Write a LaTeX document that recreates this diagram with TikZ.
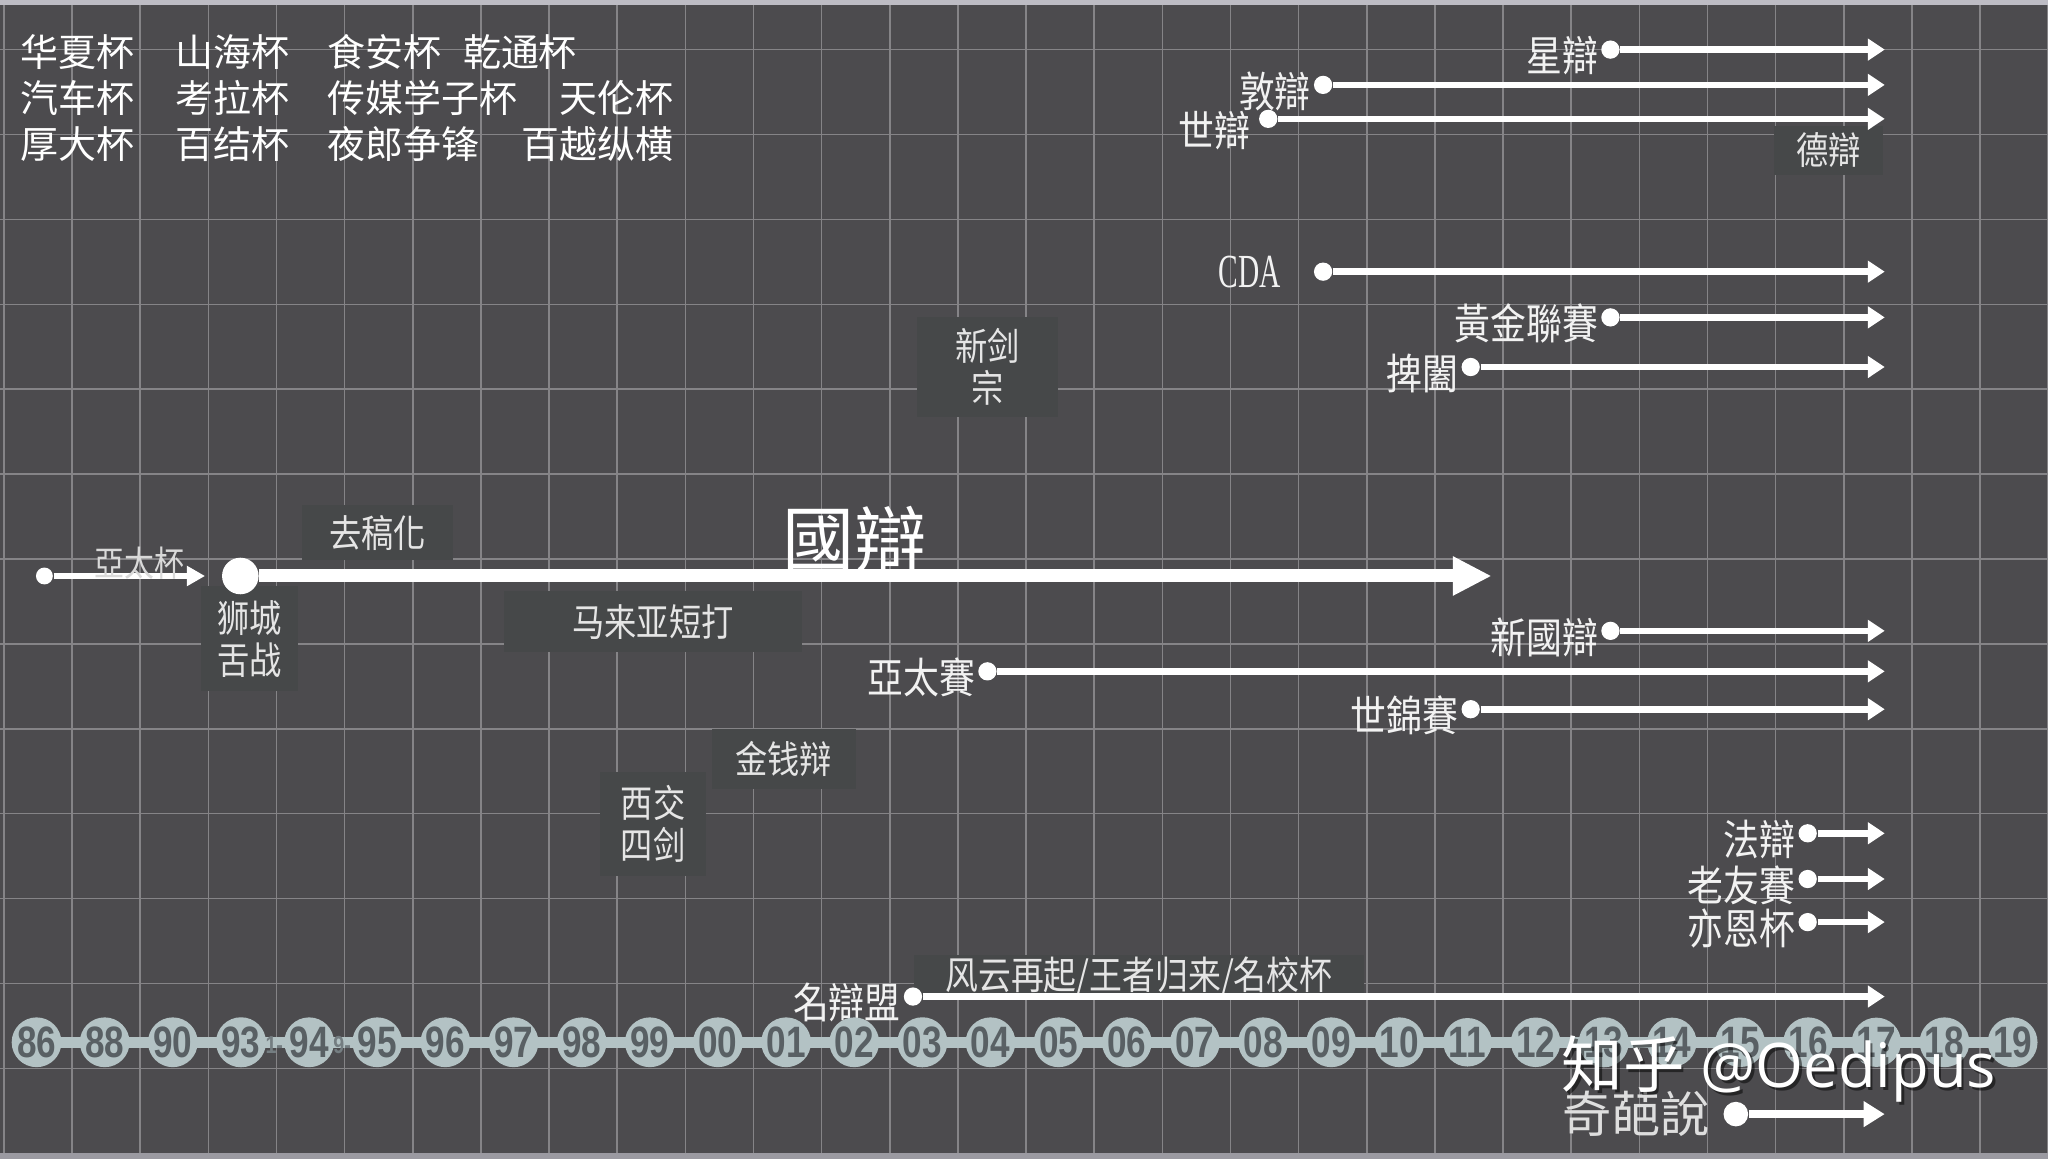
\documentclass[tikz,border=0pt]{standalone}
\usepackage{fontspec}
\usetikzlibrary{arrows.meta,positioning}

\newfontfamily\cjksc{Noto Sans CJK SC}
\newfontfamily\cjktc{Noto Sans CJK TC}
\newfontfamily\cjknarrow{Noto Sans CJK TC}[FakeStretch=0.85]
\newfontfamily\yearfont{Liberation Sans}[FakeStretch=0.8]
\newfontfamily\cdafont{Liberation Serif}[FakeStretch=0.62]
\newfontfamily\markfont{Open Sans}

\definecolor{bggray}{HTML}{4C4B4E}
\definecolor{gridgray}{HTML}{858487}
\definecolor{boxgray}{HTML}{464849}
\definecolor{ballfill}{HTML}{B3C2C4}
\definecolor{balltext}{HTML}{596064}
\definecolor{edgegray}{HTML}{BDBCC4}

\begin{document}
\begin{tikzpicture}[x=0.01306cm, y=-0.01306cm,
    every node/.style={inner sep=0pt},
    gridline/.style={gridgray, line width=0.45pt},
    dot/.style={circle, fill=white, minimum size=5.2pt},
    flow/.style={white, line width=1.9pt, -{Triangle[length=4.8pt,width=6pt]}},
    lbl/.style={text=white!95!black, font=\cjknarrow\fontsize{12}{12}\selectfont, yshift=-1.8pt},
    tag/.style={fill=boxgray, align=center, text=white!90!black, font=\cjknarrow\fontsize{10.8}{11.9}\selectfont},
    cup/.style={anchor=west, text=white, font=\cjksc\fontsize{10.8}{10.8}\selectfont},
    yearball/.style={circle, fill=ballfill, minimum size=13.8pt, text=balltext, font=\yearfont\bfseries\fontsize{12.5}{12.5}\selectfont}
  ]
    % background and grid
    \fill[bggray] (0,0) rectangle (1568,887.3);
    \useasboundingbox (0,0) rectangle (1568,887.3);
    \foreach \k in {0,...,30} {
        \draw[gridline] (3+52.17*\k,4) -- (3+52.17*\k,883);
    }
    \foreach \k in {0,...,13} {
        \draw[gridline] (0,38+65*\k) -- (1568,38+65*\k);
    }
    \fill[edgegray] (0,0) rectangle (1568,4);
    \fill[edgegray!70!bggray] (0,883) rectangle (1568,887.3);

    % cups in the corner
    \foreach \txt/\xx/\yy [count=\n] in {华夏杯/15/40, 山海杯/134/40, 食安杯/250/40, 乾通杯/354/40,
        汽车杯/15/75, 考拉杯/134/75, 传媒学子杯/250/75, 天伦杯/428/75,
        厚大杯/15/110, 百结杯/134/110, 夜郎争锋/250/110, 百越纵横/399/110} {
        \node[cup] (cup\n) at (\xx,\yy) {\txt};
    }

    % dark tags
    \node[tag, minimum width=43pt, minimum height=15.6pt] (qugao) at (289,408) {去稿化};
    \node[tag, minimum width=27.5pt, minimum height=29.7pt] (shicheng) at (191,489) {狮城\\舌战};
    \node[tag, minimum width=85pt, minimum height=17.5pt] (malai) at (500,476) {马来亚短打};
    \node[tag, minimum width=40pt, minimum height=28.2pt] (xinjian) at (756,281) {新剑\\宗};
    \node[tag, minimum width=41pt, minimum height=17pt] (jinqian) at (600,581) {金钱辩};
    \node[tag, minimum width=30pt, minimum height=29.4pt] (xijiao) at (500,631) {西交\\四剑};
    \node[tag, minimum width=31pt, minimum height=14pt] (debian) at (1400,115) {德辯};
    \node[tag, minimum width=128pt, minimum height=12.5pt, font=\cjknarrow\fontsize{11}{11}\selectfont] (fengyun) at (872,748) {风云再起/王者归来/名校杯};

    % main line
    \node[text=white, font=\cjktc\fontsize{20.5}{20.5}\selectfont] (guobian) at (654,413) {國辯};
    \node[dot, minimum size=10.4pt] (guo) at (184,441) {};
    \coordinate (guoE) at (1142,441);
    \draw[white, line width=3.7pt, -{Triangle[length=11pt,width=10.4pt]}] (guo) -- (guoE);

    \node[dot, minimum size=4.8pt] (yatai) at (34,441) {};
    \coordinate (yataiE) at (157,441);
    \draw[white, line width=1.6pt, -{Triangle[length=5.2pt,width=5.5pt]}] (yatai) -- (yataiE);
    \node[text=white!85!black, font=\cjknarrow\fontsize{10}{10}\selectfont] (yataiL) at (107,431) {亞太杯};

    % thin arrows to the right
    \coordinate (endcol) at (1443,0);
    \foreach \nm/\xx/\yy/\txt in {xing/1233/38/星辯, dun/1013/65/敦辯, huang/1233/243/黃金聯賽,
        baihe/1126/281/捭闔, xinguo/1233/483/新國辯, yatsai/756/514/亞太賽, shijin/1126/543/世錦賽,
        fa/1384/638/法辯, lao/1384/673/老友賽, yien/1384/706/亦恩杯, ming/699/763/名辯盟} {
        \node[dot] (\nm) at (\xx,\yy) {};
        \node[lbl, left=0.5pt of \nm] (\nm L) {\txt};
        \draw[flow] (\nm) -- (\nm -| endcol);
    }
    \node[dot] (shi) at (971,91) {};
    \node[lbl, left=2pt of shi, yshift=-1.5pt] (shiL) {世辯};
    \draw[flow] (shi) -- (shi -| endcol);
    \node[dot] (cda) at (1013,208) {};
    \node[text=white!95!black, font=\cdafont\fontsize{13.5}{13.5}\selectfont, left=9pt of cda] (cdaL) {CDA};
    \draw[flow] (cda) -- (cda -| endcol);

    % years
    \coordinate (axisL) at (28,798);
    \coordinate (axisR) at (1541,798);
    \draw[ballfill, line width=3pt] (axisL) -- (axisR);
    \foreach \yr [count=\i from 0] in {86,88,90,93,94,95,96,97,98,99,00,01,02,03,04,05,06,07,08,09,10,11,12,13,14,15,16,17,18,19} {
        \node[yearball] (yr\i) at (28+52.17*\i,798) {\yr};
    }
    \node[text=balltext!70!ballfill, font=\yearfont\bfseries\fontsize{7}{7}\selectfont] (gapA) at (210,800) {1-};
    \node[text=balltext!70!ballfill, font=\yearfont\bfseries\fontsize{7}{7}\selectfont] (gapB) at (262,800) {9-};

    % bottom arrow
    \node[dot, minimum size=7pt] (qipa) at (1329,853) {};
    \node[text=white!87!black, font=\cjktc\fontsize{14}{14}\selectfont, left=3.5pt of qipa] (qipaL) {奇葩說};
    \draw[white, line width=2.2pt, -{Triangle[length=6pt,width=7pt]}] (qipa) -- (qipa -| endcol);

    % watermark
    \node[anchor=base west, text=black, opacity=0.5, font=\markfont\fontsize{17.5}{17.5}\selectfont] (markS) at (1197,835) {{\cjksc 知乎} @Oedipus};
    \node[anchor=base west, text=white, font=\markfont\fontsize{17.5}{17.5}\selectfont] (mark) at (1195,833) {{\cjksc 知乎} @Oedipus};
\end{tikzpicture}
\end{document}
